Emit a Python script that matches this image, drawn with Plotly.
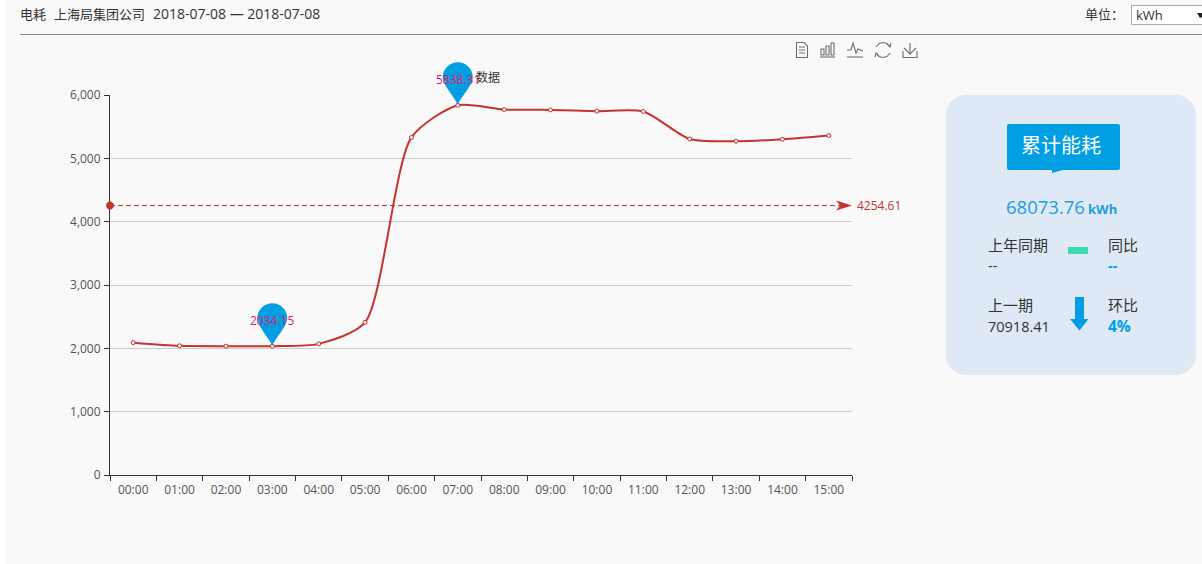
import plotly.graph_objects as go

categories = ["00:00","01:00","02:00","03:00","04:00","05:00","06:00","07:00",
              "08:00","09:00","10:00","11:00","12:00","13:00","14:00","15:00"]
values = [2090, 2040, 2034, 2034.15, 2070, 2410, 5330, 5838.31,
          5770, 5765, 5745, 5740, 5305, 5270, 5300, 5360]
y_ticks = [0, 1000, 2000, 3000, 4000, 5000, 6000]
y_max = 6000
avg_value = 4254.61
min_cat, min_value = "03:00", 2034.15
max_cat, max_value = "07:00", 5838.31

RED = "#c23531"
BLUE = "#009fe3"
PINK = "#e0176f"
DARK = "#333333"
BG = "#f9f9f9"
FONT = "'Open Sans','Noto Sans CJK SC',sans-serif"
PL, PR, PT, PB = 110, 852, 95, 475

def fx(x): return (x - PL) / (PR - PL)
def fy(y): return (PB - y) / (PB - PT)

shapes, annotations = [], []

def rect(x0, y0, x1, y1, fill, line=None, layer="below"):
    shapes.append(dict(type="rect", xref="paper", yref="paper", x0=fx(x0), x1=fx(x1), y0=fy(y0), y1=fy(y1),
                       fillcolor=fill, line=dict(color=line or fill, width=1 if line else 0), layer=layer))

def rrect(x0, y0, x1, y1, r, fill, layer="below"):
    k = r * 0.45
    pts = (f"M{fx(x0+r)},{fy(y0)} L{fx(x1-r)},{fy(y0)} "
           f"C{fx(x1-k)},{fy(y0)} {fx(x1)},{fy(y0+k)} {fx(x1)},{fy(y0+r)} "
           f"L{fx(x1)},{fy(y1-r)} C{fx(x1)},{fy(y1-k)} {fx(x1-k)},{fy(y1)} {fx(x1-r)},{fy(y1)} "
           f"L{fx(x0+r)},{fy(y1)} C{fx(x0+k)},{fy(y1)} {fx(x0)},{fy(y1-k)} {fx(x0)},{fy(y1-r)} "
           f"L{fx(x0)},{fy(y0+r)} C{fx(x0)},{fy(y0+k)} {fx(x0+k)},{fy(y0)} {fx(x0+r)},{fy(y0)} Z")
    shapes.append(dict(type="path", xref="paper", yref="paper", path=pts, fillcolor=fill, line=dict(width=0), layer=layer))

def poly(points, fill=None, color="#666666", width=1.1, close=False, layer="above"):
    d = "M" + " L".join(f"{fx(x):.5f},{fy(y):.5f}" for x, y in points) + (" Z" if close else "")
    shapes.append(dict(type="path", xref="paper", yref="paper", path=d,
                       fillcolor=fill if fill else "rgba(0,0,0,0)",
                       line=dict(color=color, width=width if width else 0), layer=layer))

def text(x, y, s, size=14, color=DARK, anchor="left", bold=False):
    annotations.append(dict(xref="paper", yref="paper", x=fx(x - 2 if anchor == "left" else x), y=fy(y - 1),
                            text=f"<b>{s}</b>" if bold else s,
                            showarrow=False, xanchor=anchor, yanchor="middle",
                            font=dict(size=size, color=color, family=FONT)))

def pin(cat, value):
    r, cy = 15, 28
    k = r * 0.5523
    d = (f"M0,0 C-2,7 -{r},{cy-8} -{r},{cy} "
         f"C-{r},{cy+k} -{k},{cy+r} 0,{cy+r} "
         f"C{k},{cy+r} {r},{cy+k} {r},{cy} "
         f"C{r},{cy-8} 2,7 0,0 Z")
    shapes.append(dict(type="path", xref="x", yref="paper", xsizemode="pixel", ysizemode="pixel",
                       xanchor=categories.index(cat), yanchor=value / y_max, path=d,
                       fillcolor=BLUE, line=dict(width=0), layer="above"))
    annotations.append(dict(xref="x", yref="y", x=categories.index(cat), y=value, text=str(value),
                            showarrow=False, xanchor="center", yanchor="middle", yshift=26,
                            font=dict(size=12, color=PINK, family=FONT)))

# page strip
rect(0, 0, 5, 564, "#ffffff")

# header
text(20, 15, "电耗", 13)
text(54, 15, "上海局集团公司", 13)
text(153, 15, "2018-07-08 — 2018-07-08", 14)
text(1085, 15, "单位：", 13)
poly([(20, 34.5), (1202, 34.5)], color="#888888", width=1)
rect(1131.5, 5.5, 1210, 24.5, "#ffffff", "#aaaaaa")
text(1136, 16, "kWh", 13)
poly([(1197, 13), (1202, 13), (1202, 17), (1200, 18)], fill="#222222", color="#222222", width=0, close=True)

# toolbar icons
G = "#6e6e6e"
poly([(796.5, 42.5), (804, 42.5), (807.5, 46), (807.5, 57.5), (796.5, 57.5)], close=True, color=G)
for yy in (47, 50, 53):
    poly([(799, yy), (805, yy)], color=G, width=1)
poly([(820, 57), (835, 57)], color=G)
for x0, top in ((821, 49), (826, 46), (831, 43)):
    poly([(x0, 55), (x0, top), (x0+3, top), (x0+3, 55)], close=True, color=G)
poly([(847, 57), (863, 57)], color=G)
poly([(847, 50), (851, 50), (853, 43), (856, 53), (858, 49), (863, 51)], color=G)
poly([(876, 47), (879, 43.5), (883, 42.5), (887, 43.5), (890, 47)], color=G)
poly([(890, 53), (887, 56.5), (883, 57.5), (879, 56.5), (876, 53)], color=G)
poly([(887, 44), (890, 47), (891, 43)], color=G)
poly([(879, 56), (876, 53), (875, 57)], color=G)
poly([(903, 51), (903, 57.5), (917, 57.5), (917, 51)], color=G)
poly([(910, 43), (910, 54)], color=G)
poly([(904, 48), (910, 54), (916, 48)], color=G)

# summary panel
rrect(946, 95, 1196, 375, 20, "#dee9f5")
rrect(1007, 124, 1120, 170, 2, BLUE)
poly([(1052, 170), (1063, 170), (1052, 173)], fill=BLUE, color=BLUE, width=0, close=True, layer="below")
text(1061, 146, "累计能耗", 20, "#ffffff", anchor="center")
text(1006, 207.5, "68073.76", 18.5, "#1c9ee0")
text(1088, 209.5, "kWh", 13, "#1c9ee0", bold=True)
text(988, 246, "上年同期", 15)
text(988, 266, "--", 14.5)
rrect(1068, 247, 1088, 254, 1, "#3adbb0")
text(1108, 246, "同比", 15)
text(1108, 266, "--", 14.5, BLUE, bold=True)
text(988, 306, "上一期", 15)
text(988, 327, "70918.41", 14.5)
poly([(1075, 297), (1084, 297), (1084, 319), (1088.5, 319), (1079.5, 330.5), (1070, 319), (1075, 319)],
     fill=BLUE, color=BLUE, width=0, close=True, layer="below")
text(1108, 306, "环比", 15)
text(1108, 326.5, "4%", 15.5, BLUE, bold=True)

# average line + ends
shapes.append(dict(type="line", xref="paper", yref="y", x0=0, x1=1, y0=avg_value, y1=avg_value,
                   line=dict(color="#a83c38", width=1, dash="5px,3px"), layer="above"))
shapes.append(dict(type="path", xref="paper", yref="y", xsizemode="pixel", ysizemode="pixel",
                   xanchor=1, yanchor=avg_value, path="M0,0 L-16,5 L-12,0 L-16,-5 Z",
                   fillcolor=RED, line=dict(width=0), layer="above"))
k = 4 * 0.5523
shapes.append(dict(type="path", xref="paper", yref="y", xsizemode="pixel", ysizemode="pixel",
                   xanchor=0, yanchor=avg_value,
                   path=f"M-4,0 C-4,{k} -{k},4 0,4 C{k},4 4,{k} 4,0 C4,-{k} {k},-4 0,-4 C-{k},-4 -4,-{k} -4,0 Z",
                   fillcolor=RED, line=dict(width=0), layer="above"))
annotations.append(dict(xref="paper", yref="y", x=1, y=avg_value, text=f"{avg_value}", showarrow=False,
                        xanchor="left", yanchor="middle", xshift=3, font=dict(size=12, color=RED, family=FONT)))

pin(min_cat, min_value)
pin(max_cat, max_value)
text(476, 78, "数据", 12)

fig = go.Figure(go.Scatter(
    x=categories, y=values, mode="lines+markers",
    line=dict(color=RED, width=2, shape="spline", smoothing=0.7),
    marker=dict(size=4, color="#fbeeee", line=dict(color=RED, width=1)),
    cliponaxis=False, hoverinfo="skip",
))
fig.update_layout(
    width=1202, height=564, autosize=False, showlegend=False,
    margin=dict(l=PL, r=1202-PR, t=PT, b=564-PB, pad=0),
    paper_bgcolor=BG, plot_bgcolor=BG,
    font=dict(family=FONT, size=12, color="#555555"),
    shapes=shapes, annotations=annotations,
    xaxis=dict(type="category", categoryorder="array", categoryarray=categories, range=[-0.5, 15.5],
               tickson="boundaries", ticks="outside", ticklen=5, tickwidth=1, tickcolor=DARK,
               ticklabelstandoff=4,
               showline=True, linecolor=DARK, linewidth=1, showgrid=False, zeroline=False,
               tickfont=dict(size=12, color="#555555"), fixedrange=True),
    yaxis=dict(range=[0, y_max], tickvals=y_ticks, tickformat=",", ticks="outside", ticklen=5, tickwidth=1,
               tickcolor=DARK, showline=True, linecolor=DARK, linewidth=1, gridcolor="#cccccc", gridwidth=1,
               ticklabelstandoff=1,
               zeroline=False, tickfont=dict(size=12, color="#555555"), fixedrange=True),
)
fig.write_html("out.html", config=dict(displayModeBar=False),
               post_script="document.body.style.margin='0';document.body.style.overflow='hidden';document.body.style.background='#f9f9f9';")
